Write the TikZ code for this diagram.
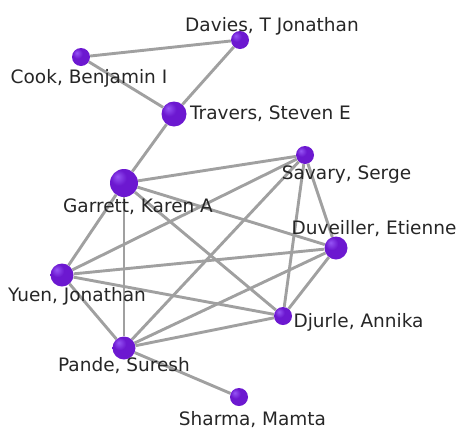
\documentclass[tikz,border=0pt]{standalone}
\usepackage{fontspec}
\newfontfamily\namefont{DejaVu Sans}

\definecolor{edgegray}{RGB}{160,160,160}
\definecolor{ballhi}{RGB}{150,85,245}
\definecolor{ballmid}{RGB}{108,24,208}
\definecolor{ballrim}{RGB}{72,8,150}
\pgfdeclareradialshading{purpleball}{\pgfqpoint{-12bp}{12bp}}{%
  color(0bp)=(ballhi); color(14bp)=(ballmid); color(32bp)=(ballmid);
  color(50bp)=(ballrim); color(70bp)=(ballrim)}

\begin{document}
\begin{tikzpicture}[x=1pt, y=-1pt,
    person/.style={circle, inner sep=0pt, minimum size=#1, shade, shading=purpleball},
    tie/.style={draw=edgegray, line width=2.9pt},
    nametag/.style={inner sep=0pt, anchor=base, text=black!85, font=\namefont\fontsize{18.5}{20}\selectfont}]
    \useasboundingbox (0,0) rectangle (461,437);

    % authors
    \node[person=28pt] (garrett) at (124,183) {};
    \node[person=25pt] (travers) at (174,114) {};
    \node[person=18pt] (davies) at (240,40) {};
    \node[person=18pt] (cook) at (81,57) {};
    \node[person=18pt] (savary) at (305,155) {};
    \node[person=23pt] (duveiller) at (336,248) {};
    \node[person=23pt] (yuen) at (62,275) {};
    \node[person=18pt] (djurle) at (283,316) {};
    \node[person=23pt] (pande) at (124,348) {};
    \node[person=18pt] (sharma) at (239,397) {};

    % co-authorships
    \foreach \a/\b in {cook/davies, cook/travers, davies/travers, travers/garrett,
        garrett/savary, garrett/duveiller, garrett/djurle, garrett/yuen, garrett/pande,
        yuen/savary, yuen/duveiller, yuen/djurle, yuen/pande,
        pande/savary, pande/duveiller, pande/djurle, pande/sharma,
        savary/djurle, savary/duveiller, duveiller/djurle}
        \draw[tie] (\a) -- (\b);

    % names
    \node[nametag] (davies-name) at (272,31.7) {Davies, T Jonathan};
    \node[nametag] (cook-name) at (89,83.3) {Cook, Benjamin I};
    \node[nametag] (travers-name) at (270.5,119) {Travers, Steven E};
    \node[nametag] (savary-name) at (346.5,179.3) {Savary, Serge};
    \node[nametag] (garrett-name) at (138,212) {Garrett, Karen A};
    \node[nametag] (duveiller-name) at (374,234) {Duveiller, Etienne};
    \node[nametag] (yuen-name) at (77,301) {Yuen, Jonathan};
    \node[nametag] (djurle-name) at (358.5,327) {Djurle, Annika};
    \node[nametag] (pande-name) at (124,371) {Pande, Suresh};
    \node[nametag] (sharma-name) at (252.5,425) {Sharma, Mamta};
\end{tikzpicture}
\end{document}
